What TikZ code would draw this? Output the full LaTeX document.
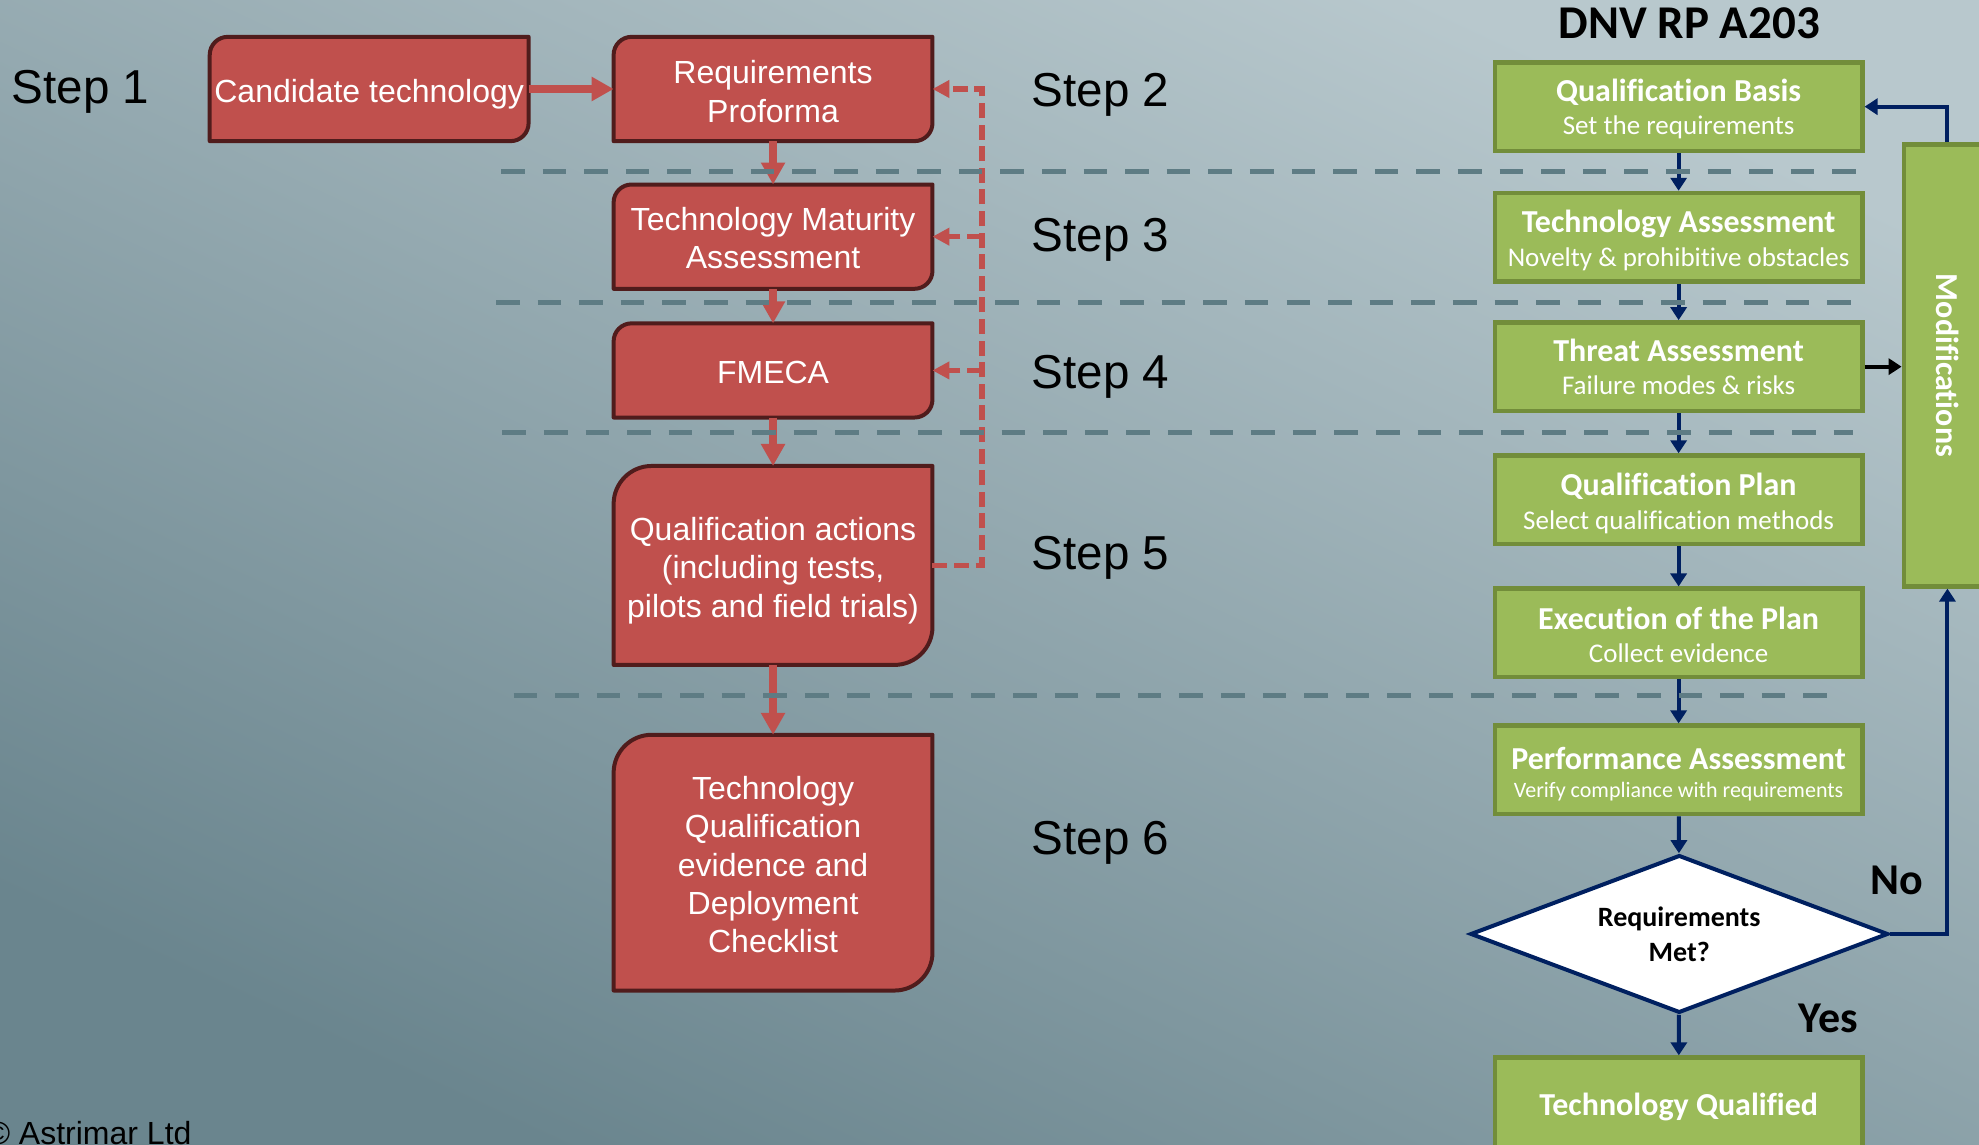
\documentclass[tikz,border=0pt]{standalone}
\usepackage{fontspec}
\setmainfont[Ligatures=CommonOff]{Liberation Sans}
\newfontfamily\carl[Ligatures=CommonOff]{Carlito}
\usetikzlibrary{arrows.meta,shapes.geometric,calc}
\pgfdeclarelayer{bg}
\pgfdeclarelayer{mid}
\pgfsetlayers{bg,mid,main}
\definecolor{rfill}{RGB}{192,80,77}
\definecolor{rdraw}{RGB}{80,28,28}
\definecolor{gfill}{RGB}{155,187,89}
\definecolor{gdraw}{RGB}{114,141,58}
\definecolor{navy}{RGB}{0,32,96}
\definecolor{slate}{RGB}{94,124,132}
\definecolor{bgtop}{RGB}{184,200,205}
\definecolor{bgbot}{RGB}{106,133,142}
\def\U{0.631pt}
\newcommand\gt[1]{{\bfseries\fontsize{16}{16.7}\selectfont #1}}
\newcommand\rshape[2]{%
 \begin{pgfonlayer}{mid}
 \draw[rline] (#1.south west) -- ([yshift=-#2]#1.north west)
   .. controls +(0pt,{0.552*#2}) and +({-0.552*#2},0pt) .. ([xshift=#2]#1.north west)
   -- (#1.north east) -- ([yshift=#2]#1.south east)
   .. controls +(0pt,{-0.552*#2}) and +({0.552*#2},0pt) .. ([xshift=-#2]#1.south east)
   -- cycle;
 \end{pgfonlayer}}
\begin{document}
\begin{tikzpicture}[x=0.631pt,y=-0.631pt,
 rbox/.style={inner sep=0pt, minimum width=252*\U},
 rtxt/.style={font=\fontsize{16}{19.2}\selectfont, text=white, align=center, inner sep=0pt},
 rline/.style={fill=rfill, draw=rdraw, line width=2pt, line join=round},
 rarrow/.style={draw=rfill, line width=3.6pt, -{Triangle[width=11.5pt,length=11pt]}},
 rdash/.style={draw=rfill, line width=2.8pt, dash pattern=on 7.5pt off 3.3pt, -{Triangle[width=8.5pt,length=8.5pt]}},
 gdash/.style={draw=slate, line width=2.5pt, dash pattern=on 11.8pt off 9pt},
 gbox/.style={fill=gfill, draw=gdraw, line width=2.3pt, minimum width=291*\U, minimum height=70*\U, inner sep=0pt},
 gtxt/.style={inner sep=0pt, text=white, align=center, font=\carl\fontsize{13.5}{16.7}\selectfont},
 narrow/.style={draw=navy, line width=2pt, -{Triangle[width=8pt,length=6.5pt]}},
 steplbl/.style={font=\fontsize{23.8}{28}\selectfont, anchor=base west, inner sep=0pt},
 lbl/.style={font=\carl\bfseries\fontsize{22}{26}\selectfont, anchor=base west, inner sep=0pt}
]
\begin{pgfonlayer}{bg}
\shade[top color=bgtop, bottom color=bgbot, shading angle=-25] (0,0) rectangle (1568,907);
\end{pgfonlayer}
\useasboundingbox (0,0) rectangle (1568,907);

% red flow: boxes
\node[rbox, minimum height=82*\U] (cand) at (292.5,70.5) {};
\node[rbox, minimum height=82*\U] (rp) at (612.5,70.5) {};
\node[rbox, minimum height=82*\U] (tma) at (612.5,187.5) {};
\node[rbox, minimum height=74*\U] (fmeca) at (612.5,293.5) {};
\node[rbox, minimum height=157*\U] (qa) at (612.5,448) {};
\node[rbox, minimum height=202*\U] (tqe) at (612.5,683.5) {};
\rshape{cand}{9pt}
\rshape{rp}{9pt}
\rshape{tma}{9pt}
\rshape{fmeca}{9pt}
\rshape{qa}{19pt}
\rshape{tqe}{19pt}
% red flow: texts
\node[rtxt] (candT) at ($(cand)+(0,4)$) {Candidate technology};
\node[rtxt] (rpT) at ($(rp)+(0,2)$) {Requirements\\Proforma};
\node[rtxt] (tmaT) at ($(tma)+(0,1)$) {Technology Maturity\\Assessment};
\node[rtxt] (fmecaT) at ($(fmeca)+(0,2)$) {FMECA};
\node[rtxt] (qaT) at ($(qa)+(0,4)$) {Qualification actions\\(including tests,\\pilots and field trials)};
\node[rtxt] (tqeT) at ($(tqe)+(0,1.5)$) {Technology\\Qualification\\evidence and\\Deployment\\Checklist};

\draw[rarrow] (cand) -- (rp);
\draw[rarrow] (rp) -- (tma);
\draw[rarrow] (tma) -- (fmeca);
\draw[rarrow] (fmeca) -- (qa);
\draw[rarrow] (qa) -- (tqe);

\coordinate (fbx) at (778,448);
\draw[rdash] (qa.east) -- (fbx) |- (rp.east);
\draw[rdash] (fbx |- tma.east) -- (tma.east);
\draw[rdash] (fbx |- fmeca.east) -- (fmeca.east);

% step labels
\node[steplbl] (s1) at (9,82) {Step 1};
\node[steplbl] (s2) at (817,84) {Step 2};
\node[steplbl] (s3) at (817,199) {Step 3};
\node[steplbl] (s4) at (817,308) {Step 4};
\node[steplbl] (s5) at (817,451) {Step 5};
\node[steplbl] (s6) at (817,677) {Step 6};

% DNV flow
\node[font=\carl\bfseries\fontsize{23.5}{28}\selectfont, anchor=base, inner sep=0pt] (dnv) at (1338.5,30.4) {DNV RP A203};
\node[gbox] (qb) at (1330,84.5) {};
\node[gbox] (ta) at (1330,188) {};
\node[gbox] (threat) at (1330,290.5) {};
\node[gbox] (qplan) at (1330,396) {};
\node[gbox] (exec) at (1330,501.5) {};
\node[gbox] (perf) at (1330,610) {};
\node[gbox, minimum height=78*\U] (tq) at (1330,877) {};
\node[gbox, minimum width=69*\U, minimum height=350*\U] (mods) at (1543,289.5) {};
\node[gtxt] (qbT) at ($(qb)+(0,2)$) {\gt{Qualification Basis}\\Set the requirements};
\node[gtxt] (taT) at ($(ta)+(0,2.5)$) {\gt{Technology Assessment}\\Novelty \& prohibitive obstacles};
\node[gtxt] (threatT) at (threat) {\gt{Threat Assessment}\\Failure modes \& risks};
\node[gtxt] (qplanT) at ($(qplan)+(0,3)$) {\gt{Qualification Plan}\\Select qualification methods};
\node[gtxt] (execT) at ($(exec)+(0,1.5)$) {\gt{Execution of the Plan}\\Collect evidence};
\node[gtxt] (perfT) at ($(perf)+(0,3.5)$) {\gt{Performance Assessment}\\[-2.4pt]{\fontsize{11}{13.6}\selectfont Verify compliance with requirements}};
\node[gtxt] (tqT) at (tq) {\gt{Technology Qualified}};
\node[rotate=-90, text=white, inner sep=0pt, font=\carl\bfseries\fontsize{16}{19}\selectfont] (modT) at (mods.center) {Modifications};
\node[draw=navy, fill=white, line width=2pt, diamond, aspect=2.6, minimum width=331*\U, minimum height=125*\U, inner sep=0pt, align=center, font=\carl\bfseries\fontsize{14}{17.5}\selectfont] (dec) at (1330.5,740) {Requirements\\Met?};

\draw[narrow] (qb) -- (ta);
\draw[narrow] (ta) -- (threat);
\draw[narrow] (threat) -- (qplan);
\draw[narrow] (qplan) -- (exec);
\draw[narrow] (exec) -- (perf);
\draw[narrow] (perf) -- (dec);
\draw[narrow] (dec) -- (tq);
\draw[narrow] (dec.east) -| (mods.south);
\draw[narrow] (mods.north) |- (qb.east);
\draw[draw=black, line width=2pt, -{Triangle[width=8pt,length=6.5pt]}] (threat.east) -- (threat.east -| mods.west);

\node[lbl] (no) at (1482,709) {No};
\node[lbl] (yes) at (1425,818) {Yes};

% separators
\draw[gdash] (397,136) -- (1478,136);
\draw[gdash] (393,239.6) -- (1470,239.6);
\draw[gdash] (398,342.6) -- (1468,342.6);
\draw[gdash] (407,551) -- (1458,551);

\node[font=\fontsize{16}{19}\selectfont, anchor=base west, inner sep=0pt] (copy) at (-11,907) {© Astrimar Ltd};
\end{tikzpicture}
\end{document}
